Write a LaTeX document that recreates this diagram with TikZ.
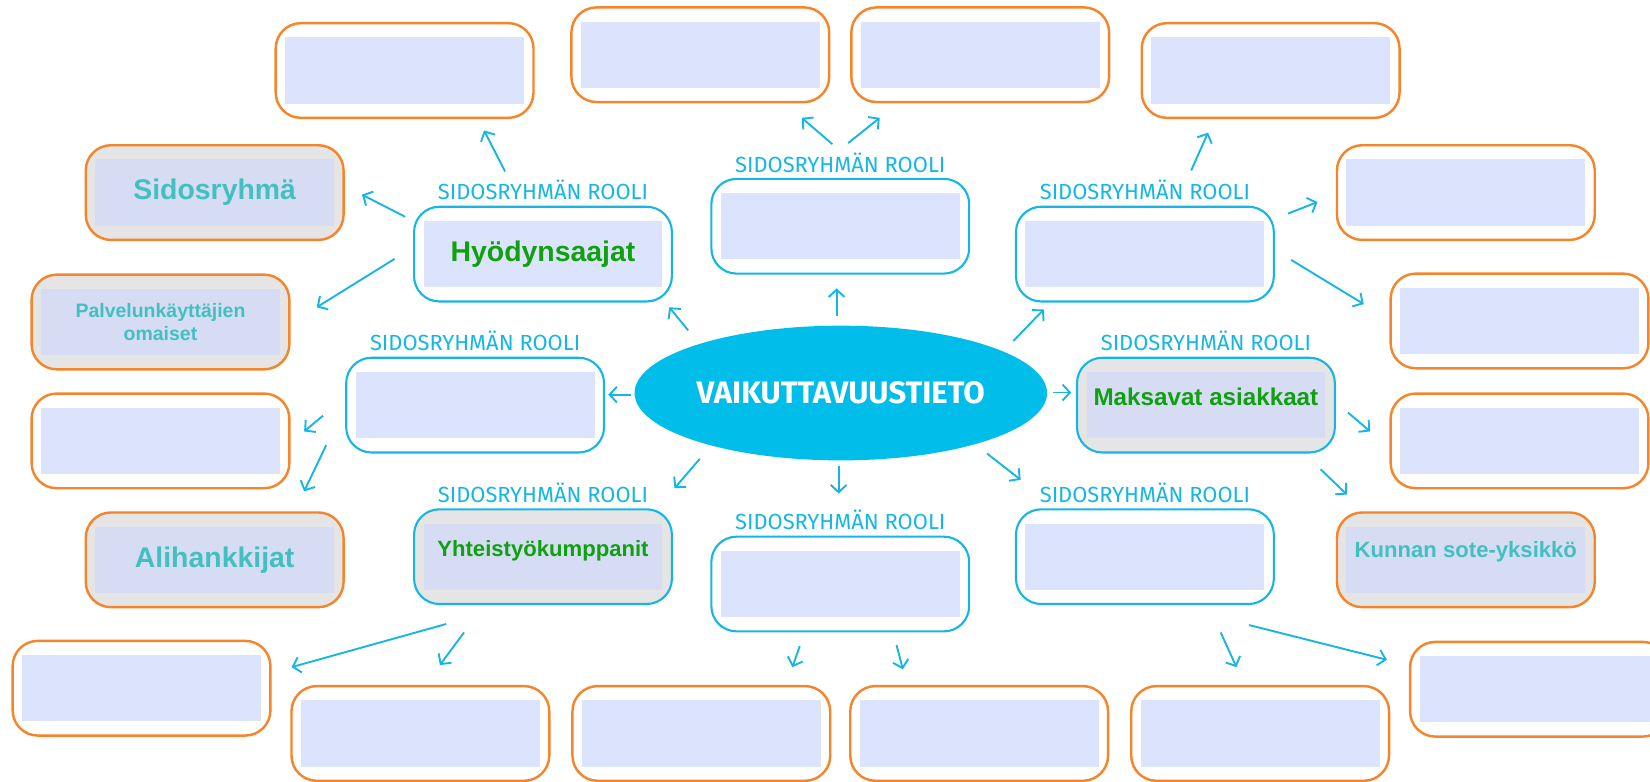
\documentclass[tikz,border=0pt]{standalone}
\usepackage{fontspec}
\setmainfont{Liberation Sans}
\newfontfamily\rolefont{Fira Sans}
\usetikzlibrary{shapes.geometric,arrows.meta,calc}

\definecolor{rolecyan}{RGB}{22,182,228}
\definecolor{vtcyan}{RGB}{0,189,233}
\definecolor{sidosorange}{RGB}{245,132,42}
\definecolor{boxgray}{RGB}{229,229,229}
\definecolor{lavender}{RGB}{220,227,252}
\definecolor{lavgray}{RGB}{213,220,244}
\definecolor{namegreen}{RGB}{16,160,16}
\definecolor{nameteal}{RGB}{66,192,192}

\tikzset{
  box/.style={rounded corners=24pt, minimum width=245pt, minimum height=90pt,
    inner sep=0pt, outer sep=0pt, fill=white, align=center,
    path picture={\fill[#1, sharp corners]
      ([xshift=9pt,yshift=13.5pt]path picture bounding box.south west) rectangle
      ([xshift=-9pt,yshift=-13.5pt]path picture bounding box.north east);}},
  box/.default=lavender,
  orangebox/.style={box=#1, draw=sidosorange, line width=2.3pt},
  orangebox/.default=lavender,
  rolebox/.style={box=#1, draw=rolecyan, line width=2pt,
    label={[rolelabel]above:SIDOSRYHMÄN ROOLI}},
  rolebox/.default=lavender,
  rolelabel/.style={font=\rolefont\fontsize{20.8}{24}\selectfont, text=rolecyan,
    inner sep=0pt, label distance=6pt},
  graybox/.style={fill=boxgray},
  greenname/.style={text=namegreen, font=\bfseries\fontsize{#1}{#1}\selectfont},
  tealname/.style={text=nameteal, font=\bfseries\fontsize{#1}{#1}\selectfont},
  raised/.style={text depth=#1},
  vt/.style={ellipse, fill=vtcyan, minimum width=392pt, minimum height=128pt,
    inner sep=0pt, text=white, font=\rolefont\bfseries\fontsize{29.5}{34}\selectfont},
  arr/.style={draw=rolecyan, line width=1.8pt,
    -{Straight Barb[length=7pt,width=15pt]}}
}

\begin{document}
\begin{tikzpicture}[x=1pt, y=-1pt]
\useasboundingbox (0,0) rectangle (1568,743);

% keskus
\node[vt] (vt) at (799,373.5) {VAIKUTTAVUUSTIETO};

% sidosryhmien roolit
\node[rolebox, greenname=27] (hyo) at (516,241.5) {Hyödynsaajat};
\node[rolebox] (rtop) at (798.5,215) {};
\node[rolebox] (rtr) at (1088,241.5) {};
\node[rolebox] (rleft) at (451.5,385) {};
\node[rolebox=lavgray, graybox, greenname=23, raised=16pt] (maks) at (1146,385) {Maksavat asiakkaat};
\node[rolebox=lavgray, graybox, greenname=21, raised=16pt] (yht) at (516,529) {Yhteistyökumppanit};
\node[rolebox] (rbot) at (798.5,555) {};
\node[rolebox] (rbr) at (1088,529) {};

% sidosryhmat
\node[orangebox] (t1) at (384.5,67) {};
\node[orangebox] (t2) at (665.5,52) {};
\node[orangebox] (t3) at (931.5,52) {};
\node[orangebox] (t4) at (1207.5,67) {};
\node[orangebox] (r1) at (1393,183) {};
\node[orangebox] (r2) at (1444,305) {};
\node[orangebox] (r3) at (1444,419) {};
\node[orangebox=lavgray, graybox, tealname=21, raised=20pt] (kunta) at (1393,532) {Kunnan sote-yksikkö};
\node[orangebox] (r5) at (1462.5,655) {};
\node[orangebox] (b1) at (134.5,654) {};
\node[orangebox] (b2) at (399.5,697) {};
\node[orangebox] (b3) at (666.5,697) {};
\node[orangebox] (b4) at (930.5,697) {};
\node[orangebox] (b5) at (1197.5,697) {};
\node[orangebox=lavgray, graybox, tealname=27] (sidos) at (204,183) {Sidosryhmä};
\node[orangebox=lavgray, graybox, text=nameteal,
  font=\bfseries\fontsize{18.5}{21}\selectfont] (omaiset) at (152.5,306) {Palvelunkäyttäjien\\omaiset};
\node[orangebox] (l3) at (152.5,419) {};
\node[orangebox=lavgray, graybox, tealname=27] (alihank) at (204,532) {Alihankkijat};

% nuolet keskuksesta
\draw[arr] ($(vt)+(-145,-59.5)$) -- ($(hyo)+(120,50.5)$);
\draw[arr] ($(vt)+(-4,-73.5)$) -- ($(rtop)+(-3.5,59)$);
\draw[arr] ($(vt)+(164,-49.5)$) -- ($(rtr)+(-96,52.5)$);
\draw[arr] ($(vt)+(-199,1.5)$) -- ($(rleft)+(126.5,-10)$);
\draw[arr] ($(vt)+(202,-0.5)$) -- ($(maks)+(-128,-12)$);
\draw[arr] ($(vt)+(-134,62.5)$) -- ($(yht)+(125,-65)$);
\draw[arr] ($(vt)+(-2,69.5)$) -- ($(rbot)+(-1.5,-86)$);
\draw[arr] ($(vt)+(139,57.5)$) -- ($(rbr)+(-118,-73)$);

% nuolet rooleista sidosryhmiin
\draw[arr] ($(hyo)+(-36,-78.5)$) -- ($(t1)+(75.5,57)$);
\draw[arr] ($(hyo)+(-131,-35.5)$) -- ($(sidos)+(140,2)$);
\draw[arr] ($(hyo)+(-141,4.5)$) -- ($(omaiset)+(148.5,-14)$);
\draw[arr] ($(rtop)+(-7.5,-78)$) -- ($(t2)+(96.5,60)$);
\draw[arr] ($(rtop)+(7.5,-79)$) -- ($(t3)+(-95.5,60)$);
\draw[arr] ($(rtr)+(44,-79.5)$) -- ($(t4)+(-59.5,59)$);
\draw[arr] ($(rtr)+(136,-38.5)$) -- ($(r1)+(-141,9)$);
\draw[arr] ($(rtr)+(139,5.5)$) -- ($(r2)+(-148,-16)$);
\draw[arr] ($(rleft)+(-144.5,10)$) -- ($(l3)+(136.5,-9)$);
\draw[arr] ($(rleft)+(-141.5,38)$) -- ($(alihank)+(85,-65)$);
\draw[arr] ($(maks)+(135,7)$) -- ($(r3)+(-142,-9)$);
\draw[arr] ($(maks)+(109,61)$) -- ($(kunta)+(-113,-62)$);
\draw[arr] ($(yht)+(-92,64)$) -- ($(b1)+(142.5,-20)$);
\draw[arr] ($(yht)+(-75,72)$) -- ($(b2)+(18.5,-65)$);
\draw[arr] ($(rbot)+(-38.5,59)$) -- ($(b3)+(86.5,-63)$);
\draw[arr] ($(rbot)+(53.5,58)$) -- ($(b4)+(-72.5,-61)$);
\draw[arr] ($(rbr)+(72,72)$) -- ($(b5)+(-22.5,-63)$);
\draw[arr] ($(rbr)+(99,65)$) -- ($(r5)+(-144.5,-28)$);
\end{tikzpicture}
\end{document}
